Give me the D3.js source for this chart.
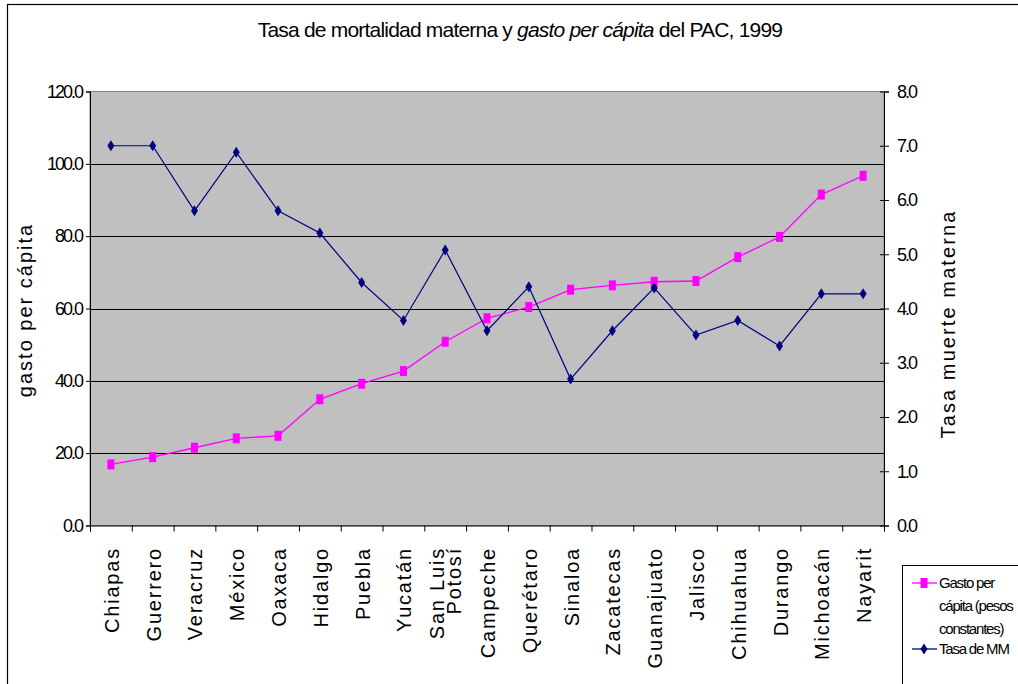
<!DOCTYPE html>
<html>
<head>
<meta charset="utf-8">
<script src="https://cdn.jsdelivr.net/npm/d3@7"></script>
<style>
  html, body { margin: 0; padding: 0; background: #fff; }
  svg { display: block; }
  text { font-family: "Liberation Sans", Arial, sans-serif; fill: #000; }
</style>
</head>
<body>
<svg id="chart" width="1018" height="684"></svg>
<script>
// Estados, ordenados por gasto per cápita
const states = ["Chiapas", "Guerrero", "Veracruz", "México", "Oaxaca", "Hidalgo", "Puebla",
  "Yucatán", "San Luis Potosí", "Campeche", "Querétaro", "Sinaloa", "Zacatecas",
  "Guanajuato", "Jalisco", "Chihuahua", "Durango", "Michoacán", "Nayarit"];

// Gasto per cápita (pesos constantes) — eje izquierdo
const gasto = [16.9, 18.9, 21.5, 24.1, 24.8, 34.9, 39.2, 42.7, 50.8, 57.3,
  60.4, 65.2, 66.4, 67.4, 67.6, 74.2, 79.8, 91.5, 96.7];

// Tasa de mortalidad materna — eje derecho
const tasaMM = [7.0, 7.0, 5.8, 6.88, 5.8, 5.39, 4.48, 3.78, 5.08, 3.59,
  4.4, 2.7, 3.59, 4.38, 3.51, 3.78, 3.31, 4.27, 4.27];

const leftTicks = [0, 20, 40, 60, 80, 100, 120];
const rightTicks = [0, 1, 2, 3, 4, 5, 6, 7, 8];

const svg = d3.select("#chart");
const plot = { left: 90, right: 884, top: 91.5, bottom: 525.5 };

const x = d3.scaleBand().domain(states).range([plot.left, plot.right]);
const xEdges = d3.scaleLinear().domain([0, states.length]).range([plot.left, plot.right]);
const yL = d3.scaleLinear().domain([0, 120]).range([plot.bottom, plot.top]);
const yR = d3.scaleLinear().domain([0, 8]).range([plot.bottom, plot.top]);
const cx = d => x(d) + x.bandwidth() / 2;

// Marco exterior del gráfico
svg.append("rect")
  .attr("x", 7.5).attr("y", 4.5).attr("width", 1040).attr("height", 720)
  .attr("fill", "none").attr("stroke", "#000").attr("stroke-width", 1.2);

// Título: tres tramos colocados uno tras otro, el central en cursiva
const titleParts = [
  { text: "Tasa de mortalidad materna y ", italic: false },
  { text: "gasto per cápita", italic: true },
  { text: " del PAC, 1999", italic: false }
];
const titleG = svg.append("g");
const titleTexts = titleG.selectAll("text").data(titleParts).join("text")
  .attr("y", 37)
  .style("font-size", "21px")
  .style("letter-spacing", "-0.8px")
  .style("white-space", "pre")
  .attr("xml:space", "preserve")
  .style("font-style", d => d.italic ? "italic" : "normal")
  .text(d => d.text);
const widths = [];
titleTexts.each(function() { widths.push(this.getComputedTextLength()); });
const totalW = d3.sum(widths);
let tx = 520 - totalW / 2;
titleTexts.attr("x", (d, i) => { const v = tx; tx += widths[i]; return v; });

// Área de trazado
svg.append("rect")
  .attr("x", plot.left).attr("y", plot.top)
  .attr("width", plot.right - plot.left).attr("height", plot.bottom - plot.top)
  .attr("fill", "#c0c0c0").attr("stroke", "#808080").attr("stroke-width", 1);

// Líneas de división horizontales
svg.append("g")
  .selectAll("line")
  .data(leftTicks.filter(t => t > 0 && t < 120))
  .join("line")
  .attr("x1", plot.left).attr("x2", plot.right)
  .attr("y1", d => Math.round(yL(d)) + 0.5).attr("y2", d => Math.round(yL(d)) + 0.5)
  .attr("stroke", "#000").attr("stroke-width", 1);

// Eje izquierdo
const axL = svg.append("g")
  .attr("transform", `translate(${plot.left},0)`)
  .call(d3.axisLeft(yL).tickValues(leftTicks).tickFormat(d3.format(".1f")).tickSize(4).tickPadding(4));
axL.select(".domain").attr("stroke", "#000");
axL.selectAll("text").style("font-size", "18px").style("letter-spacing", "-2px")
  .attr("font-family", "Liberation Sans, Arial, sans-serif");

// Eje derecho
const axR = svg.append("g")
  .attr("transform", `translate(${plot.right},0)`)
  .call(d3.axisRight(yR).tickValues(rightTicks).tickFormat(d3.format(".1f")).tickSize(5).tickPadding(8));
axR.select(".domain").attr("stroke", "#000");
axR.selectAll(".tick line").attr("x1", -4).attr("x2", 5);
axR.selectAll("text").style("font-size", "18px").style("letter-spacing", "-2px")
  .attr("font-family", "Liberation Sans, Arial, sans-serif");

// Eje de categorías: marcas en los bordes de cada banda
const axB = svg.append("g")
  .attr("transform", `translate(0,${plot.bottom})`)
  .call(d3.axisBottom(xEdges).tickValues(d3.range(states.length + 1)).tickFormat("").tickSize(6));
axB.select(".domain").attr("stroke", "#000");

// Etiquetas de estados (verticales)
const catLabels = svg.append("g")
  .selectAll("text")
  .data(states)
  .join("text")
  .attr("transform", d => `translate(${cx(d) + 1},547) rotate(-90)`)
  .attr("text-anchor", "end")
  .style("font-size", "20px")
  .style("letter-spacing", "1.8px");
catLabels.each(function(d) {
  const t = d3.select(this);
  if (d === "San Luis Potosí") {
    t.append("tspan").attr("x", 0).attr("dy", "-0.1em").text("San Luis");
    t.append("tspan").attr("x", 0).attr("dy", "0.85em").text("Potosí");
  } else {
    t.attr("dy", "0.35em").text(d);
  }
});

// Títulos de ejes
svg.append("text")
  .attr("transform", "translate(32,310) rotate(-90)")
  .attr("text-anchor", "middle")
  .style("font-size", "20px").style("letter-spacing", "2px")
  .text("gasto per cápita");
svg.append("text")
  .attr("transform", "translate(955,324) rotate(-90)")
  .attr("text-anchor", "middle")
  .style("font-size", "20px").style("letter-spacing", "2.1px")
  .text("Tasa muerte materna");

// Serie: gasto per cápita
const magenta = "#ff00ff", navy = "#000080";
const lineL = d3.line().x((d, i) => cx(states[i])).y(d => yL(d));
const lineR = d3.line().x((d, i) => cx(states[i])).y(d => yR(d));

svg.append("path").datum(gasto)
  .attr("d", lineL).attr("fill", "none").attr("stroke", magenta).attr("stroke-width", 1.3);
svg.append("g").selectAll("rect").data(gasto).join("rect")
  .attr("x", (d, i) => cx(states[i]) - 3.5).attr("y", d => yL(d) - 5)
  .attr("width", 7).attr("height", 10).attr("fill", magenta);

// Serie: tasa de MM
const diamond = (px, py, w, h) => `M${px},${py - h / 2}L${px + w / 2},${py}L${px},${py + h / 2}L${px - w / 2},${py}Z`;
svg.append("path").datum(tasaMM)
  .attr("d", lineR).attr("fill", "none").attr("stroke", navy).attr("stroke-width", 1.2);
svg.append("g").selectAll("path").data(tasaMM).join("path")
  .attr("d", (d, i) => diamond(cx(states[i]), yR(d), 7, 11)).attr("fill", navy);

// Leyenda
const lg = svg.append("g");
lg.append("rect").attr("x", 902.5).attr("y", 565.5).attr("width", 140).attr("height", 140)
  .attr("fill", "#fff").attr("stroke", "#000").attr("stroke-width", 1);
lg.append("line").attr("x1", 912).attr("x2", 937).attr("y1", 583).attr("y2", 583)
  .attr("stroke", magenta).attr("stroke-width", 1.3);
lg.append("rect").attr("x", 920.5).attr("y", 578).attr("width", 7).attr("height", 10).attr("fill", magenta);
lg.append("line").attr("x1", 912).attr("x2", 937).attr("y1", 649).attr("y2", 649)
  .attr("stroke", navy).attr("stroke-width", 1.3);
lg.append("path").attr("d", diamond(924, 649, 7, 11)).attr("fill", navy);
const legendLines = [["Gasto per", 583], ["cápita (pesos", 606], ["constantes)", 629], ["Tasa de MM", 649]];
lg.selectAll("text.lg").data(legendLines).join("text")
  .attr("class", "lg")
  .attr("x", 939).attr("y", d => d[1]).attr("dy", "0.35em")
  .style("font-size", "15px").style("letter-spacing", "-1.2px")
  .text(d => d[0]);
</script>
</body>
</html>
